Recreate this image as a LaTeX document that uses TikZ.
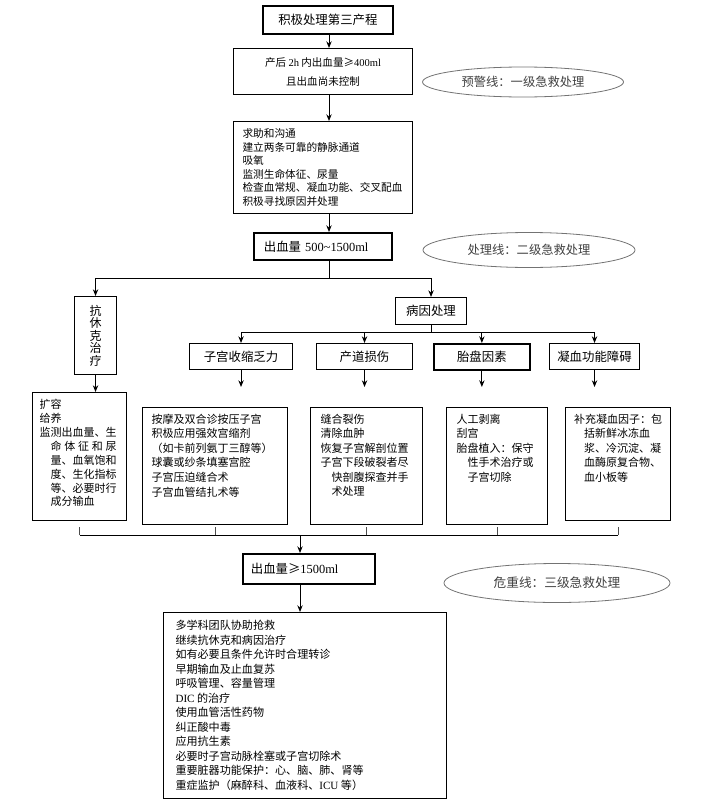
\documentclass[tikz,border=0pt]{standalone}
\usepackage{fontspec}
\setmainfont{Noto Sans CJK SC}
\newfontfamily\lat{Liberation Serif}
\usetikzlibrary{arrows.meta,shapes.geometric}
\newdimen\pxu
\pxu=0.75pt
\newcommand{\topbox}[3]{\parbox[c][#2][t]{#1}{#3}}

\begin{document}
\begin{tikzpicture}[x=0.75pt,y=-0.75pt,
		box/.style={draw,line width=0.8pt,anchor=north west,inner sep=0pt,font=\fontsize{9.3}{11}\selectfont},
		heavy/.style={line width=1.3pt},
		txt/.style={draw,line width=0.8pt,anchor=north west,font=\fontsize{8.25}{10.9}\selectfont},
		alert/.style={ellipse,draw=black!55,line width=0.6pt,inner sep=0pt,text=black!75,font=\fontsize{9.2}{11}\selectfont},
		arr/.style={-{Stealth[length=5pt,width=4pt]},line width=0.75pt}]
	\useasboundingbox (0,0) rectangle (701,803);

	\node[box,heavy,minimum width=130\pxu,minimum height=28\pxu] (start) at (262,5) {积极处理第三产程};
	\node[box,align=center,minimum width=179\pxu,minimum height=46\pxu,font=\fontsize{7.9}{14.25}\selectfont] (alarm) at (233,48) {产后 {\lat 2h} 内出血量≥{\lat 400ml}\\且出血尚未控制};
	\node[txt,inner xsep=9\pxu,inner ysep=7\pxu,font=\fontsize{8}{10.2}\selectfont] (first) at (233,121) {\topbox{161\pxu}{78\pxu}{求助和沟通\\建立两条可靠的静脉通道\\吸氧\\监测生命体征、尿量\\检查血常规、凝血功能、交叉配血\\积极寻找原因并处理}};
	\node[box,heavy,align=left,text width=118\pxu,inner xsep=10\pxu,minimum height=27\pxu] (mid) at (253,232) {出血量 {\lat 500\textasciitilde1500ml}};

	\node[alert,minimum width=201\pxu,minimum height=30\pxu] (warnline) at (523,82) {预警线：一级急救处理};
	\node[alert,minimum width=212\pxu,minimum height=35\pxu] (treatline) at (529,250) {处理线：二级急救处理};
	\node[alert,minimum width=226\pxu,minimum height=39\pxu,font=\fontsize{9.5}{11}\selectfont] (critline) at (557,583) {危重线：三级急救处理};

	\node[box,align=center,minimum width=42\pxu,minimum height=78\pxu,font=\fontsize{9}{9.4}\selectfont] (shock) at (74,296) {抗\\休\\克\\治\\疗};
	\node[box,minimum width=71\pxu,minimum height=27\pxu] (cause) at (395,297) {病因处理};
	\node[box,minimum width=103\pxu,minimum height=26\pxu] (atony) at (189,343) {子宫收缩乏力};
	\node[box,minimum width=96\pxu,minimum height=26\pxu] (trauma) at (316,343) {产道损伤};
	\node[box,heavy,minimum width=96\pxu,minimum height=26\pxu] (placenta) at (433,343) {胎盘因素};
	\node[box,minimum width=90\pxu,minimum height=26\pxu] (coag) at (549,343) {凝血功能障碍};

	\node[txt,inner xsep=7\pxu,inner ysep=7\pxu,font=\fontsize{8.25}{10.4}\selectfont] (shocktx) at (32,392) {\topbox{80\pxu}{114\pxu}{扩容\\给养\\监测出血量、生\\\hspace*{11\pxu}\makebox[66\pxu][s]{命 体 征 和 尿}\\\hspace*{11\pxu}量、血氧饱和\\\hspace*{11\pxu}度、生化指标\\\hspace*{11\pxu}等、必要时行\\\hspace*{11\pxu}成分输血}};
	\node[txt,inner xsep=9\pxu,inner ysep=6.5\pxu] (atonytx) at (142,407) {\topbox{127\pxu}{104\pxu}{按摩及双合诊按压子宫\\积极应用强效宫缩剂\\（如卡前列氨丁三醇等）\\球囊或纱条填塞宫腔\\子宫压迫缝合术\\子宫血管结扎术等}};
	\node[txt,inner xsep=10\pxu,inner ysep=6.5\pxu] (traumatx) at (310,407) {\topbox{92\pxu}{104\pxu}{缝合裂伤\\清除血肿\\恢复子宫解剖位置\\子宫下段破裂者尽\\\hspace*{11\pxu}快剖腹探查并手\\\hspace*{11\pxu}术处理}};
	\node[txt,inner xsep=10\pxu,inner ysep=6.5\pxu] (placentatx) at (446,407) {\topbox{81\pxu}{104\pxu}{人工剥离\\刮宫\\胎盘植入：保守\\\hspace*{11\pxu}性手术治疗或\\\hspace*{11\pxu}子宫切除}};
	\node[txt,inner xsep=8.5\pxu,inner ysep=6.5\pxu] (coagtx) at (565,407) {\topbox{88\pxu}{100\pxu}{补充凝血因子：包\\\hspace*{10\pxu}括新鲜冰冻血\\\hspace*{10\pxu}浆、冷沉淀、凝\\\hspace*{10\pxu}血酶原复合物、\\\hspace*{10\pxu}血小板等}};

	\node[box,heavy,align=left,text width=116\pxu,inner xsep=8\pxu,minimum height=30\pxu] (severe) at (242,553) {出血量≥{\lat 1500ml}};
	\node[txt,inner xsep=12\pxu,inner ysep=8\pxu,font=\fontsize{8.3}{10.85}\selectfont] (finaltx) at (163,612) {\topbox{259\pxu}{170\pxu}{多学科团队协助抢救\\继续抗休克和病因治疗\\如有必要且条件允许时合理转诊\\早期输血及止血复苏\\呼吸管理、容量管理\\{\lat DIC} 的治疗\\使用血管活性药物\\纠正酸中毒\\应用抗生素\\必要时子宫动脉栓塞或子宫切除术\\重要脏器功能保护：心、脑、肺、肾等\\重症监护（麻醉科、血液科、{\lat ICU} 等）}};

	\coordinate (spine) at (329,0);
	\draw[arr] (start.south -| spine) -- (alarm.north -| spine);
	\draw[arr] (alarm.south -| spine) -- (first.north -| spine);
	\draw[arr] (first.south -| spine) -- (mid.north -| spine);
	\coordinate (fork) at (329,278);
	\draw[line width=0.75pt] (mid.south -| spine) -- (fork);
	\draw[arr] (fork) -| (shock.north);
	\draw[arr] (fork) -| (cause.north);
	\draw[arr] (shock.south) -- (shock.south |- shocktx.north);

	\coordinate (fork2) at (0,332);
	\draw[line width=0.75pt] (cause.south) -- (cause.south |- fork2);
	\foreach \n in {atony,trauma,placenta,coag}
		\draw[arr] (cause.south |- fork2) -| (\n.north);
	\coordinate (tips) at (0,387);
	\foreach \n in {atony,trauma,placenta,coag}
		\draw[arr] (\n.south) -- (\n.south |- tips);

	\coordinate (gap) at (0,527);
	\coordinate (bus) at (0,535);
	\foreach \n in {shocktx,atonytx,traumatx,placentatx,coagtx}
		\draw[black!70,line width=0.6pt] (\n.south |- gap) -- (\n.south |- bus);
	\draw[line width=0.75pt] (shocktx.south |- bus) -- (coagtx.south |- bus);
	\coordinate (spine2) at (300,0);
	\draw[arr] (bus -| spine2) -- (severe.north -| spine2);
	\draw[arr] (severe.south -| spine2) -- (finaltx.north -| spine2);
\end{tikzpicture}
\end{document}
